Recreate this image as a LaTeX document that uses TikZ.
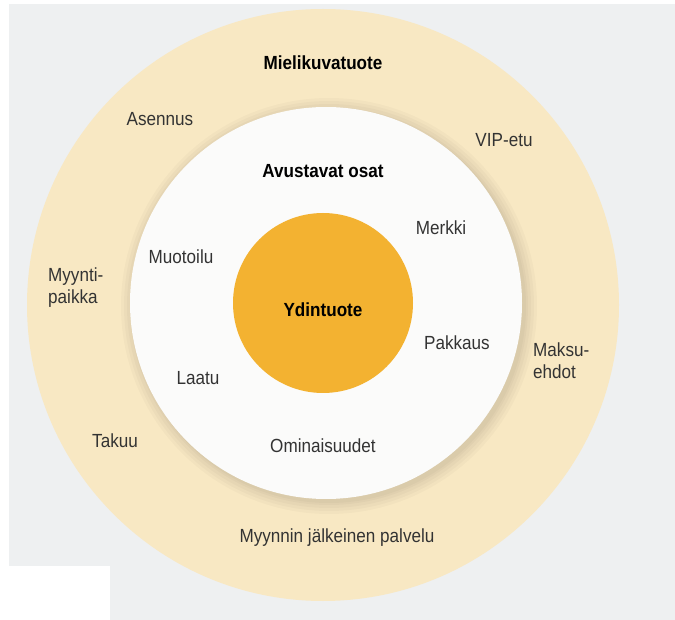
\documentclass[tikz,border=0pt]{standalone}
\usepackage{fontspec}
\setmainfont{Liberation Sans}[FakeStretch=0.9]
\definecolor{pagebg}{HTML}{EEF0F1}
\definecolor{ringbeige}{HTML}{F8E8C3}
\definecolor{midwhite}{HTML}{FBFBFA}
\definecolor{corange}{HTML}{F3B231}
\definecolor{txt}{HTML}{333333}
\tikzset{
  lbl/.style={font=\fontsize{19}{22}\selectfont, text=txt, inner sep=0pt},
  hdr/.style={font=\fontsize{19}{22}\selectfont\bfseries, text=black, inner sep=0pt},
  lbltwo/.style={lbl, align=left},
  softshade/.style={fill=black, fill opacity=0.025}
}
\begin{document}
\begin{tikzpicture}[x=1pt,y=-1pt]
\useasboundingbox (0,0) rectangle (675,620);
\fill[white] (0,0) rectangle (675,620);
\fill[pagebg] (9,4) rectangle (675,620);
\fill[white] (0,566) rectangle (110,620);
% circles
\fill[ringbeige] (323,305) circle (296);
\foreach \r in {208,205,202,199,197}
  \fill[softshade] (329,306) circle (\r);
\fill[midwhite] (326,303) circle (196);
\fill[corange] (323,303) circle (90);
% labels
\node[hdr] (mieli) at (323,63) {Mielikuvatuote};
\node[hdr] (avust) at (323,171) {Avustavat osat};
\node[hdr] (ydin) at (323,310) {Ydintuote};
\node[lbl] (asennus) at (160,119) {Asennus};
\node[lbl] (vip) at (504,140) {VIP-etu};
\node[lbl] (merkki) at (441,228) {Merkki};
\node[lbl] (muotoilu) at (181,257) {Muotoilu};
\node[lbltwo, anchor=west] (myynti) at (48,288) {Myynti-\\paikka};
\node[lbl] (pakkaus) at (457,343) {Pakkaus};
\node[lbltwo, anchor=west] (maksu) at (533,361) {Maksu-\\ehdot};
\node[lbl] (laatu) at (198,378) {Laatu};
\node[lbl] (takuu) at (115,441) {Takuu};
\node[lbl] (omin) at (323,446) {Ominaisuudet};
\node[lbl] (jalk) at (337,538) {Myynnin jälkeinen palvelu};
\end{tikzpicture}
\end{document}
